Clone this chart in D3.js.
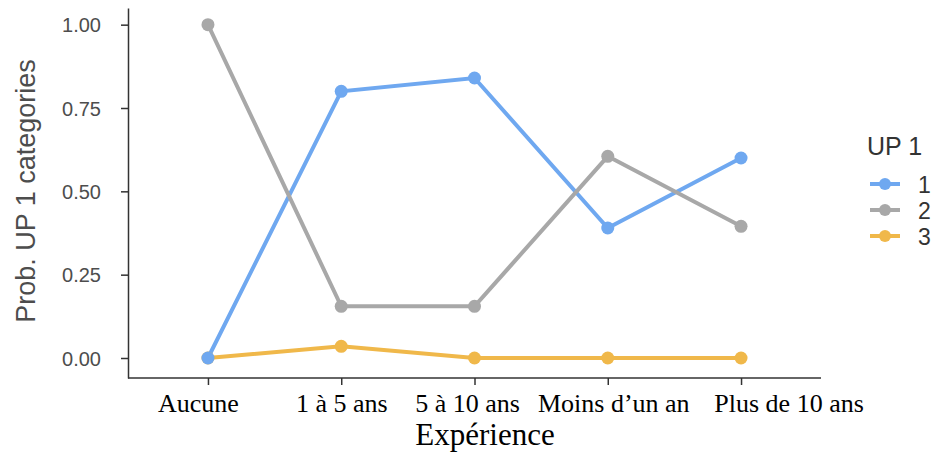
<!DOCTYPE html>
<html><head><meta charset="utf-8">
<script src="https://cdn.jsdelivr.net/npm/d3@7"></script>
<style>body{margin:0;background:#fff}</style>
</head><body>
<svg id="c" width="945" height="456"></svg>
<script>
const categories = ["Aucune","1 à 5 ans","5 à 10 ans","Moins d\u2019un an","Plus de 10 ans"];
const seriesNames = ["1","2","3"];
const series1 = [0.00, 0.80, 0.84, 0.39, 0.60];
const series2 = [1.00, 0.155, 0.155, 0.605, 0.395];
const series3 = [0.00, 0.035, 0.00, 0.00, 0.00];
const yTicks = [0, 0.25, 0.5, 0.75, 1.0];
const colors = ["#6fa8f0", "#a8a8a8", "#f0b84a"];

(function () {
const svg = d3.select("#c");
const mLeft = 128, mRight = 821, mTop = 8, mBottom = 378;
// horizontal nudges of the (hand-placed) x tick labels in the reference
const labelShift = [-10, 0, -7.5, 5.5, 47.5];
const x = d3.scalePoint().domain(categories).range([mLeft, mRight]).padding(0.6);
const y = d3.scaleLinear().domain([-0.06, 1.05]).range([mBottom, mTop]);

// axes
const ya = svg.append("g").attr("transform", `translate(${mLeft},0)`)
  .call(d3.axisLeft(y).tickValues(yTicks).tickFormat(d3.format(".2f")).tickSize(7).tickSizeOuter(0));
ya.select(".domain").attr("stroke", "#333").attr("stroke-width", 1.5);
ya.selectAll(".tick line").attr("stroke", "#333").attr("stroke-width", 1.5);
ya.selectAll(".tick text").attr("font-family", "Liberation Sans, Arial, sans-serif")
  .attr("font-size", 20).attr("fill", "#4d4d4d").attr("x", -27).attr("dy", "0.36em");

const xa = svg.append("g").attr("transform", `translate(0,${mBottom})`)
  .call(d3.axisBottom(x).tickSize(7).tickSizeOuter(0));
xa.select(".domain").attr("stroke", "#333").attr("stroke-width", 1.5)
  .attr("d", `M${mLeft},0H${mRight}`);
xa.selectAll(".tick line").attr("stroke", "#333").attr("stroke-width", 1.5);
xa.selectAll(".tick text").attr("font-family", "Liberation Serif, Times New Roman, serif")
  .attr("font-size", 26).attr("fill", "#000").attr("dy", 0).attr("y", 34)
  .attr("x", (d, i) => labelShift[i]);

// titles
svg.append("text").attr("x", 485).attr("y", 445)
  .attr("text-anchor", "middle").attr("font-family", "Liberation Serif, Times New Roman, serif")
  .attr("font-size", 31).attr("fill", "#000").text("Expérience");
svg.append("text").attr("transform", `translate(35,191) rotate(-90)`)
  .attr("text-anchor", "middle").attr("font-family", "Liberation Sans, Arial, sans-serif")
  .attr("font-size", 27).attr("fill", "#4d4d4d").text("Prob. UP 1 categories");

// lines, then points (blue points on top as in the reference)
const allSeries = [series1, series2, series3];
const line = d3.line().x((d, i) => x(categories[i])).y(d => y(d));
[0, 1, 2].forEach(k => {
  svg.append("path").datum(allSeries[k]).attr("d", line).attr("fill", "none")
    .attr("stroke", colors[k]).attr("stroke-width", 4);
});
[2, 1, 0].forEach(k => {
  svg.append("g").selectAll("circle").data(allSeries[k]).join("circle")
    .attr("cx", (d, i) => x(categories[i])).attr("cy", d => y(d)).attr("r", 6.5)
    .attr("fill", colors[k]);
});

// legend
const lg = svg.append("g");
lg.append("text").attr("x", 867).attr("y", 155).attr("font-family", "Liberation Sans, Arial, sans-serif")
  .attr("font-size", 25).attr("fill", "#333").text("UP 1");
seriesNames.forEach((n, i) => {
  const cy = 184 + i * 26;
  lg.append("line").attr("x1", 870).attr("x2", 900).attr("y1", cy).attr("y2", cy)
    .attr("stroke", colors[i]).attr("stroke-width", 4);
  lg.append("circle").attr("cx", 885).attr("cy", cy).attr("r", 6).attr("fill", colors[i]);
  lg.append("text").attr("x", 918).attr("y", cy + 8.5).attr("font-family", "Liberation Sans, Arial, sans-serif")
    .attr("font-size", 23).attr("fill", "#333").text(n);
});
})();
</script>
</body></html>
